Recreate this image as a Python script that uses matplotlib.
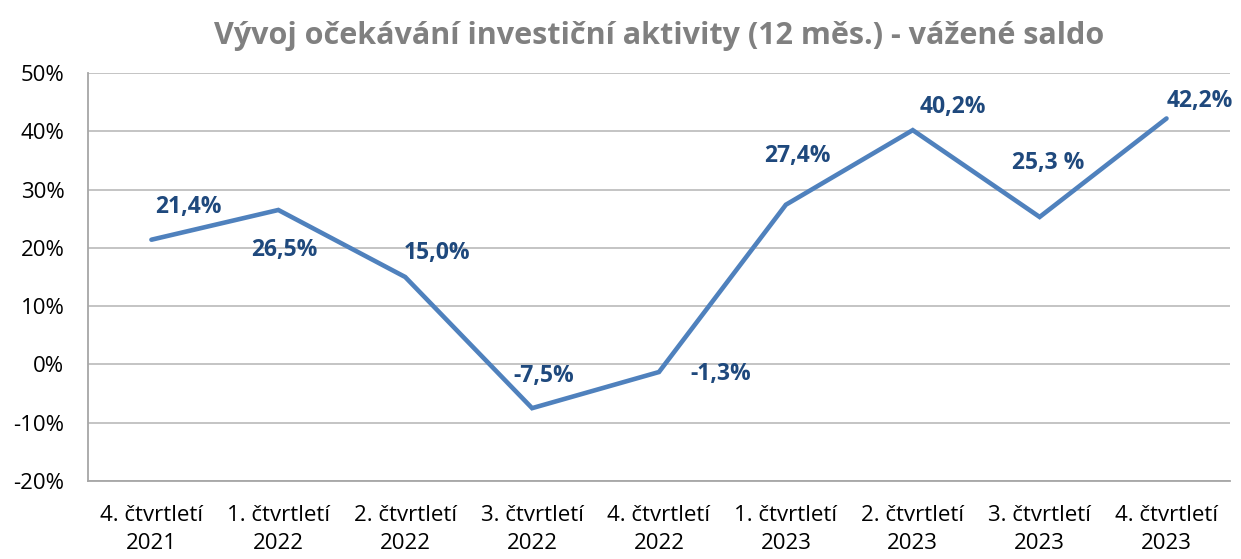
import matplotlib
matplotlib.use("Agg")
import matplotlib.pyplot as plt
from matplotlib.ticker import FuncFormatter

categories = ["4. čtvrtletí\n2021", "1. čtvrtletí\n2022", "2. čtvrtletí\n2022", "3. čtvrtletí\n2022",
              "4. čtvrtletí\n2022", "1. čtvrtletí\n2023", "2. čtvrtletí\n2023", "3. čtvrtletí\n2023",
              "4. čtvrtletí\n2023"]
values = [21.4, 26.5, 15.0, -7.5, -1.3, 27.4, 40.2, 25.3, 42.2]
labels = ["21,4%", "26,5%", "15,0%", "-7,5%", "-1,3%", "27,4%", "40,2%", "25,3 %", "42,2%"]
offsets = [(37, 33), (6, -40), (32, 24), (12, 32), (62, -2), (12, 49), (40, 23), (9, 54), (33, 17)]

plt.rcParams['font.family'] = ['Open Sans', 'DejaVu Sans']

fig = plt.figure(figsize=(12.41, 5.59), dpi=100)
ax = fig.add_axes([0.0709, 0.1395, 0.9202, 0.7299])
x = list(range(len(values)))
ax.plot(x, values, color="#4F81BD", linewidth=3.3, solid_capstyle="round", solid_joinstyle="miter", zorder=3)

for xi, v, lab, off in zip(x, values, labels, offsets):
    ax.annotate(lab, (xi, v), xytext=off, textcoords="offset pixels", ha="center", va="center",
                fontsize=16.5, fontweight="bold", color="#1F497D", zorder=4)

ax.set_xlim(-0.5, len(values) - 0.5)
ax.set_ylim(-20, 50)
ax.set_yticks(range(-20, 51, 10))
ax.yaxis.set_major_formatter(FuncFormatter(lambda v, p: f"{int(v)}%"))
ax.set_xticks(x)
ax.set_xticklabels(categories, linespacing=1.45)
ax.tick_params(axis="both", length=0, labelsize=16, colors="#000000")
ax.tick_params(axis="y", pad=17)
ax.tick_params(axis="x", pad=17)
ax.grid(axis="y", color="#BFBFBF", linewidth=1.3)
ax.set_axisbelow(True)
for s in ["top", "right"]:
    ax.spines[s].set_visible(False)
for s in ["left", "bottom"]:
    ax.spines[s].set_color("#A6A6A6")
    ax.spines[s].set_linewidth(1.3)

fig.text(0.531, 0.935, "Vývoj očekávání investiční aktivity (12 měs.) - vážené saldo", ha="center", va="center",
         fontsize=22, fontweight="bold", color="#808080")

fig.savefig("out.png", dpi=100)
